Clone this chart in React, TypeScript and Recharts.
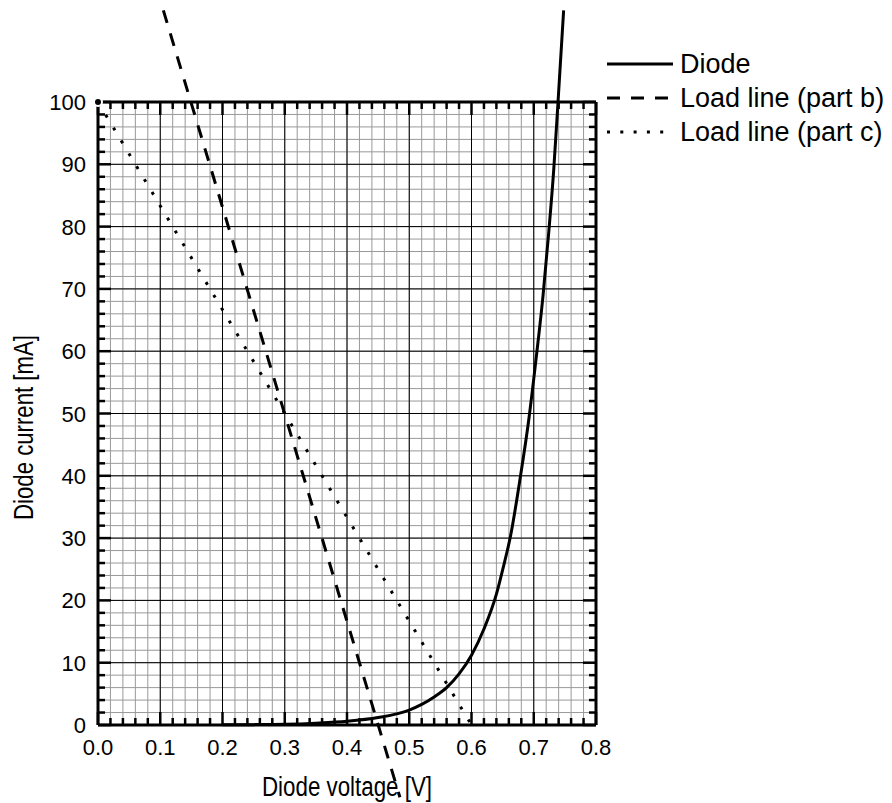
import React from 'react'
import { CartesianGrid, Legend, Line, LineChart, XAxis, YAxis } from 'recharts'

// page + plot frame (px)
const W = 892
const H = 803
const PLOT_LEFT = 98
const PLOT_TOP = 102
const PLOT_RIGHT = 596
const PLOT_BOTTOM = 725

const X_MAX = 0.8
const Y_MAX = 100
const PX_PER_V = (PLOT_RIGHT - PLOT_LEFT) / X_MAX
const PX_PER_MA = (PLOT_BOTTOM - PLOT_TOP) / Y_MAX

const steps = (to: number, step: number) => {
  const out: number[] = []
  for (let i = 0; i * step <= to + 1e-9; i++) out.push(Math.round(i * step * 1000) / 1000)
  return out
}

// ticks
const xMajorTicks = [0, 0.1, 0.2, 0.3, 0.4, 0.5, 0.6, 0.7, 0.8]
const yMajorTicks = [0, 10, 20, 30, 40, 50, 60, 70, 80, 90, 100]
const xMinorTicks = steps(X_MAX, 0.02)
const yMinorTicks = steps(Y_MAX, 2)

// diode characteristic (V, mA)
const diodeV = [0.2, 0.25, 0.3, 0.35, 0.4, 0.45, 0.5, 0.52, 0.54, 0.56, 0.58, 0.6, 0.62, 0.64, 0.651, 0.663, 0.678, 0.692, 0.704, 0.715, 0.724, 0.732, 0.739, 0.748]
const diodeI = [0.04, 0.06, 0.12, 0.3, 0.6, 1.2, 2.4, 3.3, 4.5, 6.0, 8.2, 11.2, 15.4, 21, 25.3, 30.5, 39.5, 49, 59, 69, 79, 89, 100, 114.7]

// load line part b
const loadBV = [0.105, 0.485]
const loadBI = [114.7, -11.6]

// load line part c
const loadCV = [0, 0.6]
const loadCI = [100, 0]

const diodeData = diodeV.map((v, k) => ({ v, i: diodeI[k] }))
const loadBData = loadBV.map((v, k) => ({ v, i: loadBI[k] }))
const loadCData = loadCV.map((v, k) => ({ v, i: loadCI[k] }))

const seriesNames = ['Diode', 'Load line (part b)', 'Load line (part c)']
const legendDash: Record<string, string | undefined> = {
  Diode: undefined,
  'Load line (part b)': '13 11',
  'Load line (part c)': '3 10.3',
}

const FONT = '"Liberation Sans", Arial, Helvetica, sans-serif'
const frameLine = { stroke: '#000', strokeWidth: 3 }

const isMajor = (v: number, unit: number) => Math.abs(v / unit - Math.round(v / unit)) < 1e-6

function BottomTick({ x, y, payload }: any) {
  const major = isMajor(payload.value, 0.1)
  return (
    <g>
      <line x1={x} x2={x} y1={y} y2={y - (major ? 13 : 7)} stroke="#000" strokeWidth={2.5} />
      {major && (
        <text x={x} y={y + 30} textAnchor="middle" fontSize={22} fontFamily={FONT} fill="#000">
          {payload.value.toFixed(1)}
        </text>
      )}
    </g>
  )
}

function TopTick({ x, y, payload }: any) {
  const major = isMajor(payload.value, 0.1)
  return <line x1={x} x2={x} y1={y} y2={y + (major ? 13 : 7)} stroke="#000" strokeWidth={2.5} />
}

function LeftTick({ x, y, payload }: any) {
  const major = isMajor(payload.value, 10)
  return (
    <g>
      <line x1={x} x2={x + (major ? 13 : 7)} y1={y} y2={y} stroke="#000" strokeWidth={2.5} />
      {major && (
        <text x={x - 12} y={y + 8} textAnchor="end" fontSize={22} fontFamily={FONT} fill="#000">
          {payload.value}
        </text>
      )}
    </g>
  )
}

function RightTick({ x, y, payload }: any) {
  const major = isMajor(payload.value, 10)
  return <line x1={x} x2={x - (major ? 13 : 7)} y1={y} y2={y} stroke="#000" strokeWidth={2.5} />
}

// axis titles are narrow in the original, squeeze them to its width
function XTitle({ viewBox }: any) {
  const x = viewBox.x + viewBox.width / 2
  const y = viewBox.y + viewBox.height - 7
  return (
    <text x={x} y={y} textAnchor="middle" fontSize={27} fontFamily={FONT} fill="#000" textLength={170} lengthAdjust="spacingAndGlyphs">
      Diode voltage [V]
    </text>
  )
}

function YTitle({ viewBox }: any) {
  const x = viewBox.x + 33
  const y = viewBox.y + viewBox.height / 2 + 14
  return (
    <text
      x={x}
      y={y}
      transform={`rotate(-90 ${x} ${y})`}
      textAnchor="middle"
      fontSize={27}
      fontFamily={FONT}
      fill="#000"
      textLength={185}
      lengthAdjust="spacingAndGlyphs"
    >
      Diode current [mA]
    </text>
  )
}

function LegendBox({ payload }: any) {
  const items = [...(payload || [])].sort(
    (a: any, b: any) => seriesNames.indexOf(a.value) - seriesNames.indexOf(b.value),
  )
  return (
    <div>
      {items.map((e: any) => (
        <div key={e.value} style={{ display: 'flex', alignItems: 'center', height: 34 }}>
          <svg width={66} height={34}>
            <line x1={0} x2={66} y1={17} y2={17} stroke="#000" strokeWidth={3} strokeDasharray={legendDash[e.value]} />
          </svg>
          <span style={{ marginLeft: 7, fontSize: 27, fontFamily: FONT, color: '#000', lineHeight: '34px' }}>
            {e.value}
          </span>
        </div>
      ))}
    </div>
  )
}

export default function App() {
  return (
    <div style={{ position: 'absolute', left: 0, top: 0, width: W, height: H, background: '#fff' }}>
      {/* frame, grid, ticks */}
      <div style={{ position: 'absolute', left: 0, top: 0 }}>
        <LineChart width={W} height={H} margin={{ top: 0, right: 0, bottom: 0, left: 0 }}>
          <CartesianGrid xAxisId="b" yAxisId="l" stroke="#999" strokeWidth={1} />
          <CartesianGrid xAxisId="xmajor" yAxisId="ymajor" stroke="#000" strokeWidth={1} />
          <XAxis
            xAxisId="b"
            type="number"
            dataKey="v"
            orientation="bottom"
            domain={[0, X_MAX]}
            allowDataOverflow
            ticks={xMinorTicks}
            interval={0}
            height={H - PLOT_BOTTOM}
            tickSize={0}
            tickMargin={0}
            tickLine={false}
            axisLine={frameLine}
            tick={BottomTick}
            label={{ content: (p: any) => <XTitle viewBox={p.viewBox} /> }}
          />
          <XAxis
            xAxisId="t"
            type="number"
            dataKey="v"
            orientation="top"
            domain={[0, X_MAX]}
            allowDataOverflow
            ticks={xMinorTicks}
            interval={0}
            height={PLOT_TOP}
            tickSize={0}
            tickMargin={0}
            tickLine={false}
            axisLine={frameLine}
            tick={TopTick}
          />
          <XAxis xAxisId="xmajor" type="number" dataKey="v" hide domain={[0, X_MAX]} allowDataOverflow ticks={xMajorTicks} interval={0} />
          <YAxis
            yAxisId="l"
            type="number"
            orientation="left"
            domain={[0, Y_MAX]}
            allowDataOverflow
            ticks={yMinorTicks}
            interval={0}
            width={PLOT_LEFT}
            tickSize={0}
            tickMargin={0}
            tickLine={false}
            axisLine={frameLine}
            tick={LeftTick}
            label={{ content: (p: any) => <YTitle viewBox={p.viewBox} /> }}
          />
          <YAxis
            yAxisId="r"
            type="number"
            orientation="right"
            domain={[0, Y_MAX]}
            allowDataOverflow
            ticks={yMinorTicks}
            interval={0}
            width={W - PLOT_RIGHT}
            tickSize={0}
            tickMargin={0}
            tickLine={false}
            axisLine={frameLine}
            tick={RightTick}
          />
          <YAxis yAxisId="ymajor" type="number" hide domain={[0, Y_MAX]} allowDataOverflow ticks={yMajorTicks} interval={0} />
        </LineChart>
      </div>

      {/* curves: same scale, plot area stretched over the whole page so they run past the frame */}
      <div style={{ position: 'absolute', left: 0, top: 0 }}>
        <LineChart width={W} height={H} margin={{ top: 0, right: 0, bottom: 0, left: 0 }}>
          <XAxis
            type="number"
            dataKey="v"
            hide
            domain={[-PLOT_LEFT / PX_PER_V, (W - PLOT_LEFT) / PX_PER_V]}
            allowDataOverflow
          />
          <YAxis
            type="number"
            hide
            domain={[-(H - PLOT_BOTTOM) / PX_PER_MA, PLOT_BOTTOM / PX_PER_MA]}
            allowDataOverflow
          />
          <Legend
            layout="vertical"
            align="center"
            verticalAlign="middle"
            wrapperStyle={{ left: 607, top: 47, width: 285 }}
            content={<LegendBox />}
          />
          <Line
            data={diodeData}
            dataKey="i"
            name="Diode"
            type="monotone"
            stroke="#000"
            strokeWidth={3}
            dot={false}
            isAnimationActive={false}
          />
          <Line
            data={loadBData}
            dataKey="i"
            name="Load line (part b)"
            type="linear"
            stroke="#000"
            strokeWidth={3}
            strokeDasharray="13 11"
            dot={false}
            isAnimationActive={false}
          />
          <Line
            data={loadCData}
            dataKey="i"
            name="Load line (part c)"
            type="linear"
            stroke="#000"
            strokeWidth={3}
            strokeDasharray="3 12"
            dot={false}
            isAnimationActive={false}
          />
        </LineChart>
      </div>
    </div>
  )
}
